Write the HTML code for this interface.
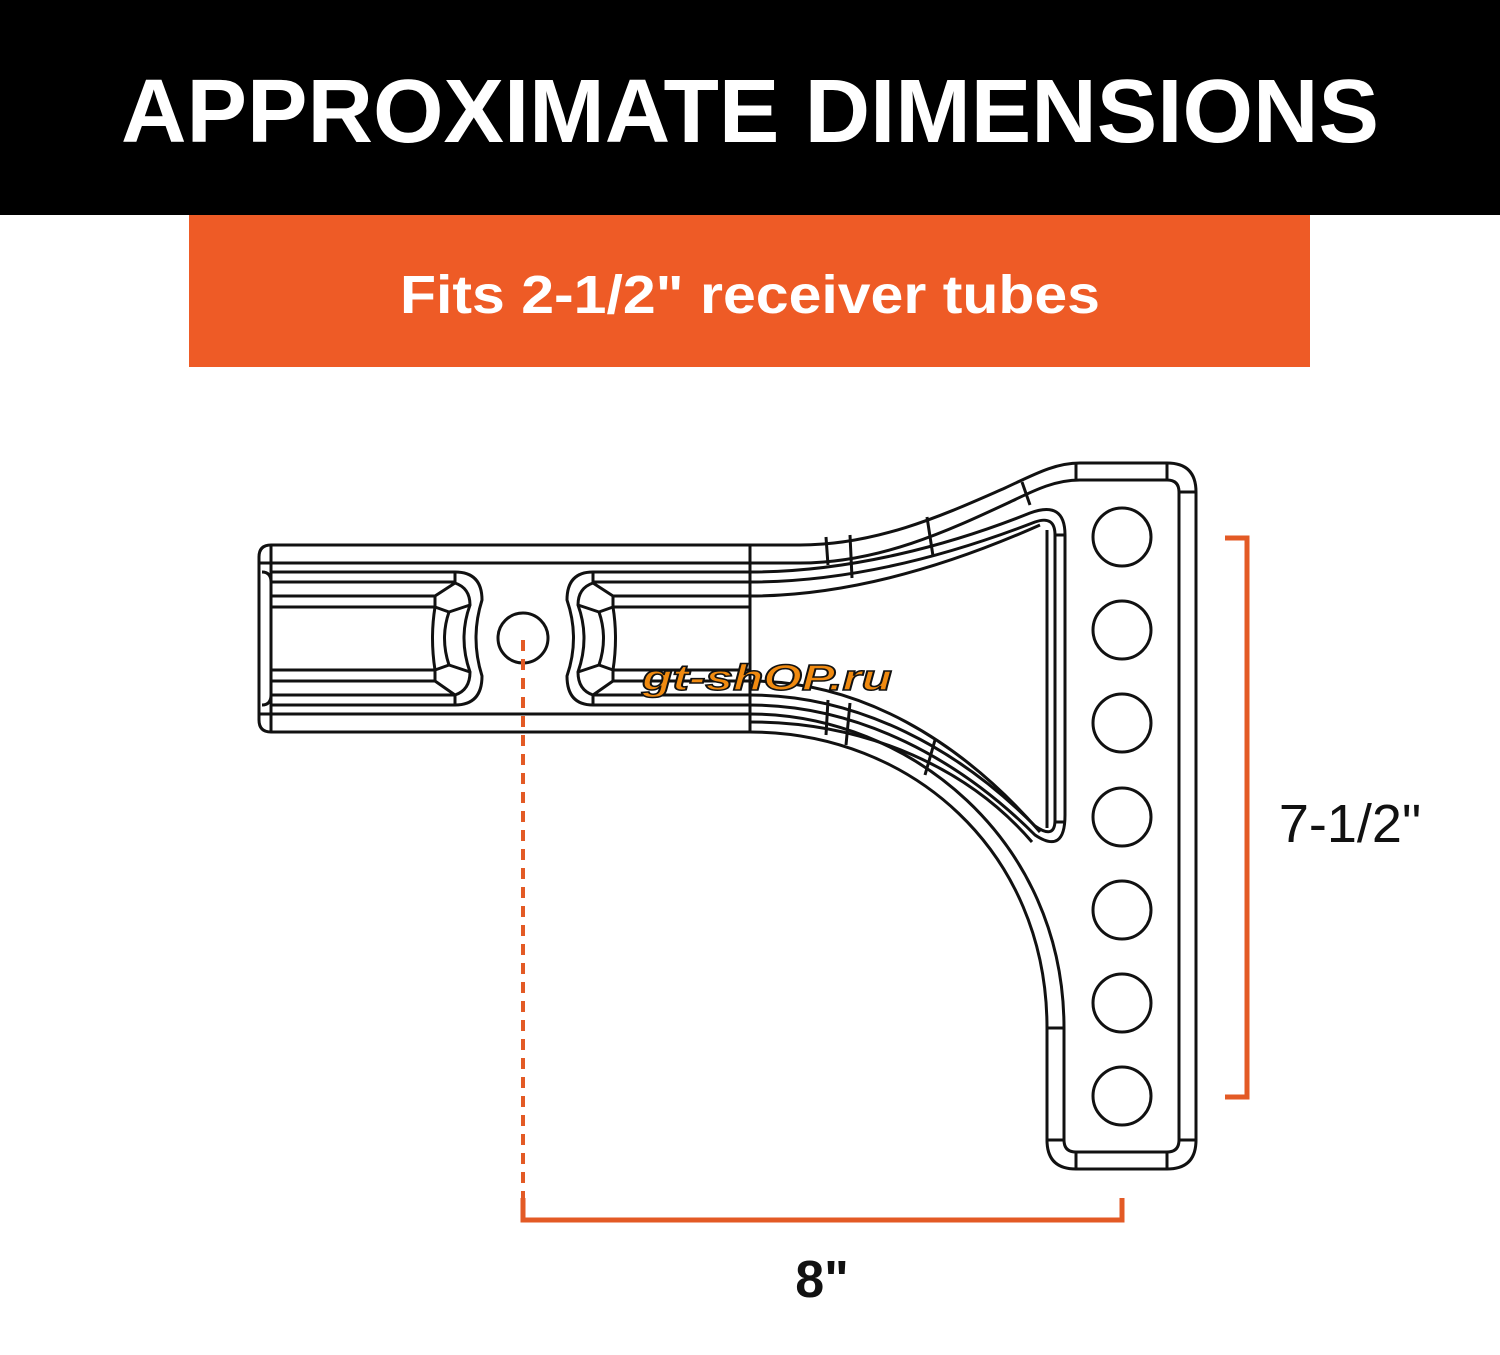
<!DOCTYPE html>
<html><head><meta charset="utf-8"><style>
body{margin:0;width:1500px;height:1350px;background:#fff;overflow:hidden;font-family:"Liberation Sans",sans-serif}
</style></head><body>
<svg width="1500" height="1350" viewBox="0 0 1500 1350" xmlns="http://www.w3.org/2000/svg">
<rect x="0" y="0" width="1500" height="215" fill="#000"/>
<text x="750" y="142" text-anchor="middle" font-family="Liberation Sans" font-weight="bold" font-size="90" fill="#fff" textLength="1258" lengthAdjust="spacingAndGlyphs">APPROXIMATE DIMENSIONS</text>
<rect x="189" y="215" width="1121" height="152" fill="#EE5B26"/>
<text x="750" y="313" text-anchor="middle" font-family="Liberation Sans" font-weight="bold" font-size="54" fill="#fff" textLength="700" lengthAdjust="spacingAndGlyphs">Fits 2-1/2" receiver tubes</text>
<g fill="none" stroke="#111" stroke-width="3" stroke-linejoin="round">
<path d="M750,545 L271,545 Q259,545 259,557 L259,720 Q259,732 271,732 L750,732"/>
<line x1="271" y1="545" x2="271" y2="732"/>
<line x1="750" y1="545" x2="750" y2="732"/>
<path d="M259,563 L750,563 M259,714 L750,714"/>
<path d="M262,572 Q271,572 271,582 M262,705 Q271,705 271,695"/>
<path d="M271,572 L455,572 Q482,572 482,600 Q470,638 482,676 Q482,705 455,705 L271,705"/>
<path d="M271,582 L455,582 M271,596 L435,596 M271,607 L435,607 M271,670 L435,670 M271,681 L435,681 M271,695 L455,695"/>
<path d="M435,596 L455,583 Q470,588 470,605 L449,612 L435,607 Z M435,670 L449,665 L470,672 Q470,690 455,695 L435,681 Z"/>
<path d="M449,612 Q440,638 449,665 M435,607 Q430,638 435,670 M470,605 Q458,638 470,672"/>
<line x1="455" y1="572" x2="455" y2="583"/><line x1="455" y1="695" x2="455" y2="705"/>
<circle cx="523" cy="638" r="25"/>
<path d="M750,572 L593,572 Q567,572 567,600 Q580,638 567,676 Q567,705 593,705 L750,705"/>
<path d="M593,582 L750,582 M613,596 L750,596 M613,607 L750,607 M613,670 L750,670 M613,681 L750,681 M593,695 L750,695"/>
<path d="M613,596 L593,583 Q578,588 578,605 L599,612 L613,607 Z M613,670 L599,665 L578,672 Q578,690 593,695 L613,681 Z"/>
<path d="M599,612 Q608,638 599,665 M613,607 Q618,638 613,670 M578,605 Q590,638 578,672"/>
<line x1="593" y1="572" x2="593" y2="583"/><line x1="593" y1="695" x2="593" y2="705"/>
<path d="M750,545 L800,545 C880,545 950,512 1005,488 C1035,474 1055,463 1080,463 L1167,463 Q1196,463 1196,492 L1196,1140 Q1196,1169 1167,1169 L1076,1169 Q1047,1169 1047,1140 L1047,1028 C1047,850 910,732 750,732"/>
<path d="M750,563 L800,563 C880,563 950,530 1010,502 C1035,490 1055,480 1080,480 L1167,480 Q1179,480 1179,492 L1179,1140 Q1179,1152 1167,1152 L1076,1152 Q1064,1152 1064,1140 L1064,1028 C1064,840 910,714 750,714"/>
<path d="M1179,492 L1196,492 M1167,463 L1167,480 M1076,1152 L1076,1169 M1167,1152 L1167,1169 M1179,1140 L1196,1140 M1047,1140 L1064,1140 M1047,1028 L1064,1028 M1076,463 L1076,480"/>
<path d="M750,572 C850,572 950,545 1030,513 Q1065,500 1065,535 L1065,815 Q1065,855 1035,835 C960,760 860,705 750,705"/>
<path d="M750,582 C850,582 950,555 1035,522 Q1055,515 1055,535 L1055,820 Q1055,840 1035,826 C960,750 860,695 750,695"/>
<path d="M750,596 C850,596 950,565 1040,525 M750,681 C860,681 960,740 1040,832 M750,722 C870,722 970,770 1032,842"/>
<path d="M1047,530 L1047,828 M1055,535 L1065,535 M1055,822 L1065,822"/>
<path d="M826,537 L828,565 M850,535 L852,578 M927,517 L933,556 M1022,482 L1030,505 M828,700 L826,735 M850,703 L846,745 M935,740 L925,775"/>
<circle cx="1122" cy="537" r="29"/><circle cx="1122" cy="630" r="29"/><circle cx="1122" cy="723" r="29"/>
<circle cx="1122" cy="817" r="29"/><circle cx="1122" cy="910" r="29"/><circle cx="1122" cy="1003" r="29"/><circle cx="1122" cy="1096" r="29"/>
</g>
<g stroke="#E35A25" fill="none" stroke-width="5">
<path d="M1225,538 L1247,538 L1247,1097 L1225,1097"/>
<path d="M523,1198 L523,1220 L1122,1220 L1122,1198"/>
<line x1="523" y1="640" x2="523" y2="1198" stroke-dasharray="11,8" stroke-width="4"/>
</g>
<text x="1350" y="842" text-anchor="middle" font-family="Liberation Sans" font-size="54" fill="#111">7-1/2"</text>
<text x="822" y="1297" text-anchor="middle" font-family="Liberation Sans" font-weight="bold" font-size="52" fill="#111">8"</text>
<text x="642" y="690" font-family="Liberation Sans" font-weight="bold" font-style="italic" font-size="36" fill="#F08A10" stroke="#111" stroke-width="1.5" textLength="250" lengthAdjust="spacingAndGlyphs">gt-shOP.ru</text>
</svg>
</body></html>
